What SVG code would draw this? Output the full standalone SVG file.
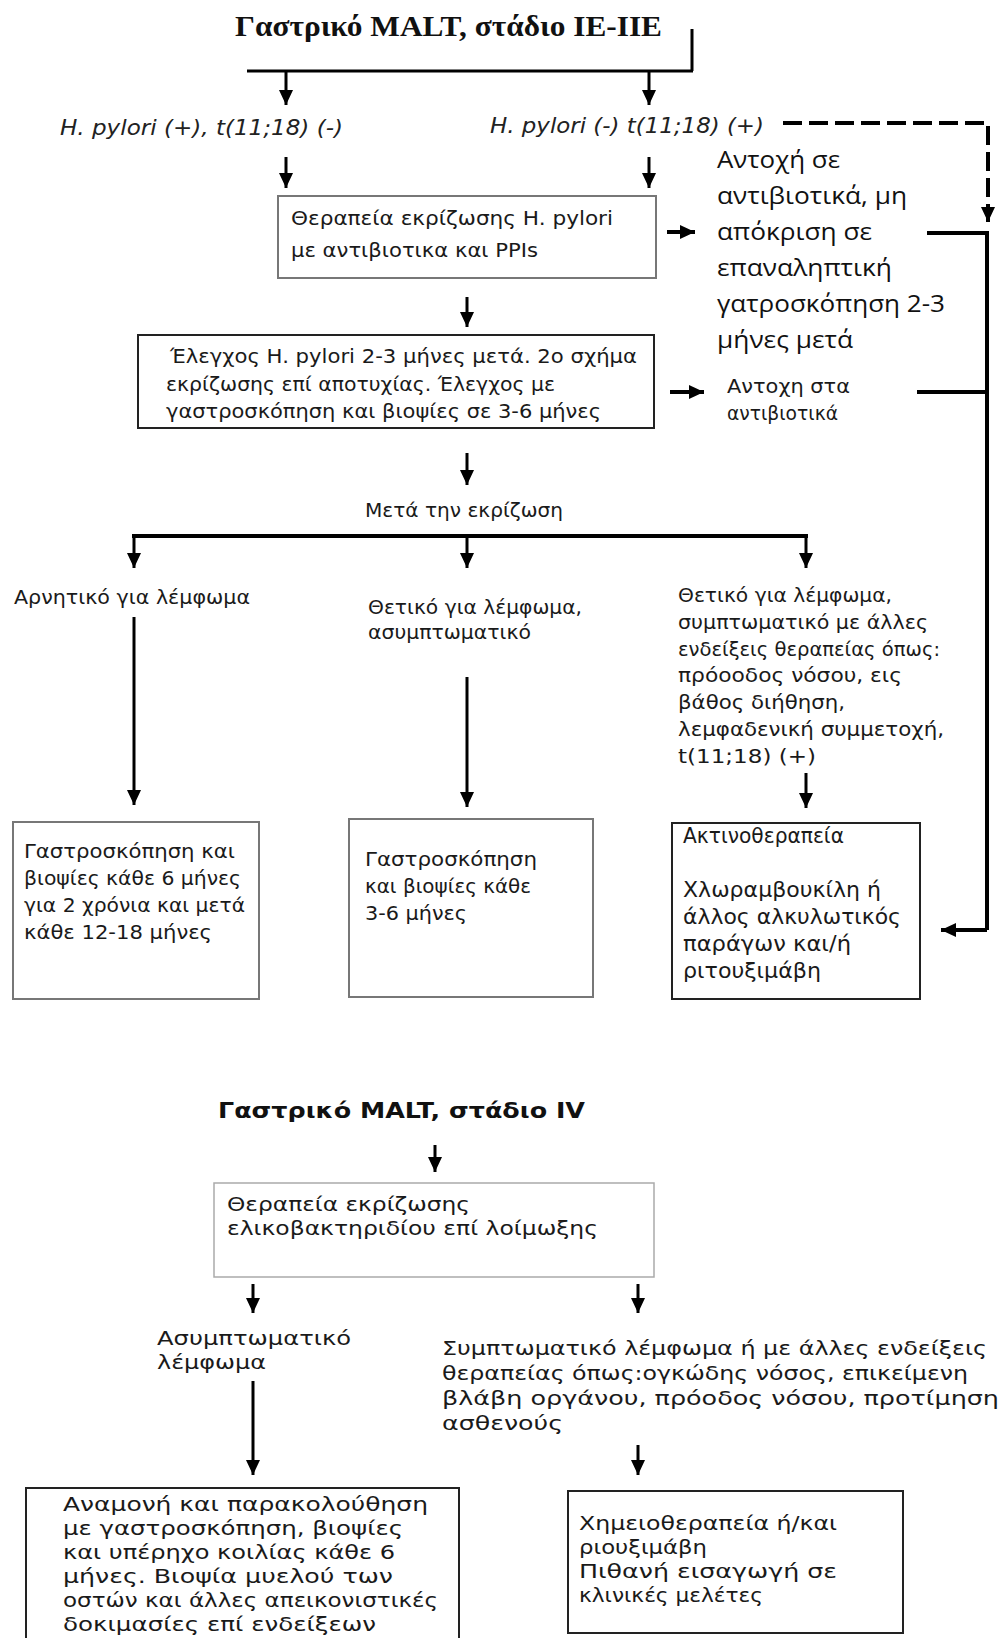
<svg xmlns="http://www.w3.org/2000/svg" width="1003" height="1638" viewBox="0 0 1003 1638">
<style>
.t{font-family:"DejaVu Sans","Liberation Sans",sans-serif;font-size:20px;fill:#1a1a1a}
.t2{font-family:"DejaVu Sans","Liberation Sans",sans-serif;font-size:22px;fill:#1a1a1a}
.c{font-family:"Open Sans","DejaVu Sans",sans-serif;font-size:24px;fill:#111}
.i{font-family:"DejaVu Sans","Liberation Sans",sans-serif;font-size:22px;font-style:italic;fill:#222}
.h1{font-family:"Liberation Serif","Times New Roman",serif;font-size:30px;font-weight:bold;fill:#111}
.h2{font-family:"DejaVu Sans","Liberation Sans",sans-serif;font-size:21px;font-weight:bold;fill:#111}
.box{fill:#fff;stroke-width:2}
.g{stroke:#777}
.k{stroke:#222}
.l{stroke:#aaa;stroke-width:1.5}
.ln{fill:none;stroke:#000;stroke-width:3}
.ar{fill:none;stroke:#000;stroke-width:3;marker-end:url(#ah)}
.ar4{fill:none;stroke:#000;stroke-width:4;marker-end:url(#ah)}
.ds{fill:none;stroke:#000;stroke-width:4;stroke-dasharray:19 7;marker-end:url(#ah)}
</style>
<defs>
<marker id="ah" markerUnits="userSpaceOnUse" markerWidth="16" markerHeight="14" refX="15" refY="7" orient="auto">
<path d="M0,0 L15,7 L0,14 Z" fill="#000"/>
</marker>
</defs>
<rect width="1003" height="1638" fill="#fff"/>

<g id="connectors">
<path class="ln" d="M692,29 V71 M247,71 H693"/>
<path class="ar" d="M286,71 V105"/>
<path class="ar" d="M649,71 V105"/>
<path class="ar" d="M286,157 V188"/>
<path class="ar" d="M649,157 V188"/>
<path class="ds" d="M783,123 H988 V222"/>
<path class="ar4" d="M667,232 H695"/>
<path class="ar" d="M467,297 V327"/>
<path class="ln" d="M927,233 H987 V930" style="stroke-width:4"/>
<path class="ln" d="M917,392 H987" style="stroke-width:4"/>
<path class="ar4" d="M987,930 H941"/>
<path class="ar4" d="M670,392 H704"/>
<path class="ar" d="M467,453 V485"/>
<path class="ln" d="M132,536 H808" style="stroke-width:4"/>
<path class="ar" d="M134,536 V568"/>
<path class="ar" d="M467,536 V568"/>
<path class="ar" d="M806,536 V568"/>
<path class="ar" d="M134,617 V805"/>
<path class="ar" d="M467,677 V807"/>
<path class="ar" d="M806,773 V808"/>
<path class="ar" d="M435,1145 V1172"/>
<path class="ar" d="M253,1284 V1313"/>
<path class="ar" d="M638,1284 V1313"/>
<path class="ar" d="M253,1381 V1475"/>
<path class="ar" d="M638,1445 V1475"/>
</g>

<g id="title1"><text class="h1" x="235" y="36" textLength="427" lengthAdjust="spacingAndGlyphs">Γαστρικό MALT, στάδιο IE-IIE</text></g>

<g id="hp-pos"><text class="i" x="60" y="135" textLength="283" lengthAdjust="spacingAndGlyphs">H. pylori (+), t(11;18) (-)</text></g>
<g id="hp-neg"><text class="i" x="490" y="133" textLength="274" lengthAdjust="spacingAndGlyphs">H. pylori (-) t(11;18) (+)</text></g>

<g id="box-eradication">
<rect class="box g" x="278" y="196" width="378" height="82"/>
<text class="t" x="291" y="225" textLength="322" lengthAdjust="spacingAndGlyphs">Θεραπεία εκρίζωσης H. pylori</text>
<text class="t" x="291" y="257" textLength="247" lengthAdjust="spacingAndGlyphs">με αντιβιοτικα και PPIs</text>
</g>

<g id="resistance1">
<text class="c" x="717" y="168" textLength="123" lengthAdjust="spacingAndGlyphs">Αντοχή σε</text>
<text class="c" x="717" y="204" textLength="190" lengthAdjust="spacingAndGlyphs">αντιβιοτικά, μη</text>
<text class="c" x="717" y="240" textLength="155" lengthAdjust="spacingAndGlyphs">απόκριση σε</text>
<text class="c" x="717" y="276" textLength="175" lengthAdjust="spacingAndGlyphs">επαναληπτική</text>
<text class="c" x="717" y="312" textLength="228" lengthAdjust="spacingAndGlyphs">γατροσκόπηση 2-3</text>
<text class="c" x="717" y="348" textLength="136" lengthAdjust="spacingAndGlyphs">μήνες μετά</text>
</g>

<g id="box-check">
<rect class="box k" x="138" y="335" width="516" height="93"/>
<text class="t" x="170" y="363" textLength="467" lengthAdjust="spacingAndGlyphs">Έλεγχος H. pylori 2-3 μήνες μετά. 2ο σχήμα</text>
<text class="t" x="166" y="391" textLength="389" lengthAdjust="spacingAndGlyphs">εκρίζωσης επί αποτυχίας. Έλεγχος με</text>
<text class="t" x="166" y="418" textLength="435" lengthAdjust="spacingAndGlyphs">γαστροσκόπηση και βιοψίες σε 3-6 μήνες</text>
</g>

<g id="resistance2">
<text class="t" x="727" y="393" textLength="123" lengthAdjust="spacingAndGlyphs">Αντοχη στα</text>
<text class="t" x="727" y="420" textLength="111" lengthAdjust="spacingAndGlyphs">αντιβιοτικά</text>
</g>

<g id="after"><text class="t" x="365" y="517" textLength="198" lengthAdjust="spacingAndGlyphs">Μετά την εκρίζωση</text></g>

<g id="neg"><text class="t" x="14" y="604" textLength="236" lengthAdjust="spacingAndGlyphs">Αρνητικό για λέμφωμα</text></g>
<g id="pos-asym">
<text class="t" x="368" y="614" textLength="214" lengthAdjust="spacingAndGlyphs">Θετικό για λέμφωμα,</text>
<text class="t" x="368" y="639" textLength="163" lengthAdjust="spacingAndGlyphs">ασυμπτωματικό</text>
</g>
<g id="pos-sym">
<text class="t" x="678" y="602" textLength="214" lengthAdjust="spacingAndGlyphs">Θετικό για λέμφωμα,</text>
<text class="t" x="678" y="629" textLength="250" lengthAdjust="spacingAndGlyphs">συμπτωματικό με άλλες</text>
<text class="t" x="678" y="656" textLength="262" lengthAdjust="spacingAndGlyphs">ενδείξεις θεραπείας όπως:</text>
<text class="t" x="678" y="682" textLength="224" lengthAdjust="spacingAndGlyphs">πρόοοδος νόσου, εις</text>
<text class="t" x="678" y="709" textLength="167" lengthAdjust="spacingAndGlyphs">βάθος διήθηση,</text>
<text class="t" x="678" y="736" textLength="266" lengthAdjust="spacingAndGlyphs">λεμφαδενική συμμετοχή,</text>
<text class="t" x="678" y="763" textLength="138" lengthAdjust="spacingAndGlyphs">t(11;18) (+)</text>
</g>

<g id="box-follow1">
<rect class="box g" x="13" y="822" width="246" height="177"/>
<text class="t" x="24" y="858" textLength="211" lengthAdjust="spacingAndGlyphs">Γαστροσκόπηση και</text>
<text class="t" x="24" y="885" textLength="217" lengthAdjust="spacingAndGlyphs">βιοψίες κάθε 6 μήνες</text>
<text class="t" x="24" y="912" textLength="221" lengthAdjust="spacingAndGlyphs">για 2 χρόνια και μετά</text>
<text class="t" x="24" y="939" textLength="188" lengthAdjust="spacingAndGlyphs">κάθε 12-18 μήνες</text>
</g>

<g id="box-follow2">
<rect class="box g" x="349" y="819" width="244" height="178"/>
<text class="t" x="365" y="866" textLength="172" lengthAdjust="spacingAndGlyphs">Γαστροσκόπηση</text>
<text class="t" x="365" y="893" textLength="166" lengthAdjust="spacingAndGlyphs">και βιοψίες κάθε</text>
<text class="t" x="365" y="920" textLength="102" lengthAdjust="spacingAndGlyphs">3-6 μήνες</text>
</g>

<g id="box-treat">
<rect class="box k" x="672" y="823" width="248" height="176"/>
<text class="t2" x="683" y="843" textLength="161" lengthAdjust="spacingAndGlyphs">Ακτινοθεραπεία</text>
<text class="t2" x="683" y="897" textLength="198" lengthAdjust="spacingAndGlyphs">Χλωραμβουκίλη ή</text>
<text class="t2" x="683" y="924" textLength="218" lengthAdjust="spacingAndGlyphs">άλλος αλκυλωτικός</text>
<text class="t2" x="683" y="951" textLength="168" lengthAdjust="spacingAndGlyphs">παράγων και/ή</text>
<text class="t2" x="683" y="978" textLength="138" lengthAdjust="spacingAndGlyphs">ριτουξιμάβη</text>
</g>

<g id="title2"><text class="h2" x="218" y="1118" textLength="367" lengthAdjust="spacingAndGlyphs">Γαστρικό MALT, στάδιο IV</text></g>

<g id="box-hp4">
<rect class="box l" x="214" y="1183" width="440" height="94"/>
<text class="t" x="227" y="1211" textLength="243" lengthAdjust="spacingAndGlyphs">Θεραπεία εκρίζωσης</text>
<text class="t" x="227" y="1235" textLength="371" lengthAdjust="spacingAndGlyphs">ελικοβακτηριδίου επί λοίμωξης</text>
</g>

<g id="asym4">
<text class="t" x="157" y="1345" textLength="194" lengthAdjust="spacingAndGlyphs">Ασυμπτωματικό</text>
<text class="t" x="157" y="1369" textLength="109" lengthAdjust="spacingAndGlyphs">λέμφωμα</text>
</g>

<g id="sym4">
<text class="t" x="442" y="1355" textLength="545" lengthAdjust="spacingAndGlyphs">Συμπτωματικό λέμφωμα ή με άλλες ενδείξεις</text>
<text class="t" x="442" y="1380" textLength="526" lengthAdjust="spacingAndGlyphs">θεραπείας όπως:ογκώδης νόσος, επικείμενη</text>
<text class="t" x="442" y="1405" textLength="557" lengthAdjust="spacingAndGlyphs">βλάβη οργάνου, πρόοδος νόσου, προτίμηση</text>
<text class="t" x="442" y="1430" textLength="121" lengthAdjust="spacingAndGlyphs">ασθενούς</text>
</g>

<g id="box-watch">
<rect class="box k" x="26" y="1488" width="433" height="170"/>
<text class="t" x="63" y="1511" textLength="365" lengthAdjust="spacingAndGlyphs">Αναμονή και παρακολούθηση</text>
<text class="t" x="63" y="1535" textLength="340" lengthAdjust="spacingAndGlyphs">με γαστροσκόπηση, βιοψίες</text>
<text class="t" x="63" y="1559" textLength="332" lengthAdjust="spacingAndGlyphs">και υπέρηχο κοιλίας κάθε 6</text>
<text class="t" x="63" y="1583" textLength="330" lengthAdjust="spacingAndGlyphs">μήνες. Βιοψία μυελού των</text>
<text class="t" x="63" y="1607" textLength="375" lengthAdjust="spacingAndGlyphs">οστών και άλλες απεικονιστικές</text>
<text class="t" x="63" y="1631" textLength="313" lengthAdjust="spacingAndGlyphs">δοκιμασίες επί ενδείξεων</text>
</g>

<g id="box-chemo">
<rect class="box k" x="568" y="1491" width="335" height="142"/>
<text class="t" x="579" y="1530" textLength="258" lengthAdjust="spacingAndGlyphs">Χημειοθεραπεία ή/και</text>
<text class="t" x="579" y="1554" textLength="128" lengthAdjust="spacingAndGlyphs">ριουξιμάβη</text>
<text class="t" x="579" y="1578" textLength="258" lengthAdjust="spacingAndGlyphs">Πιθανή εισαγωγή σε</text>
<text class="t" x="579" y="1602" textLength="184" lengthAdjust="spacingAndGlyphs">κλινικές μελέτες</text>
</g>
</svg>
